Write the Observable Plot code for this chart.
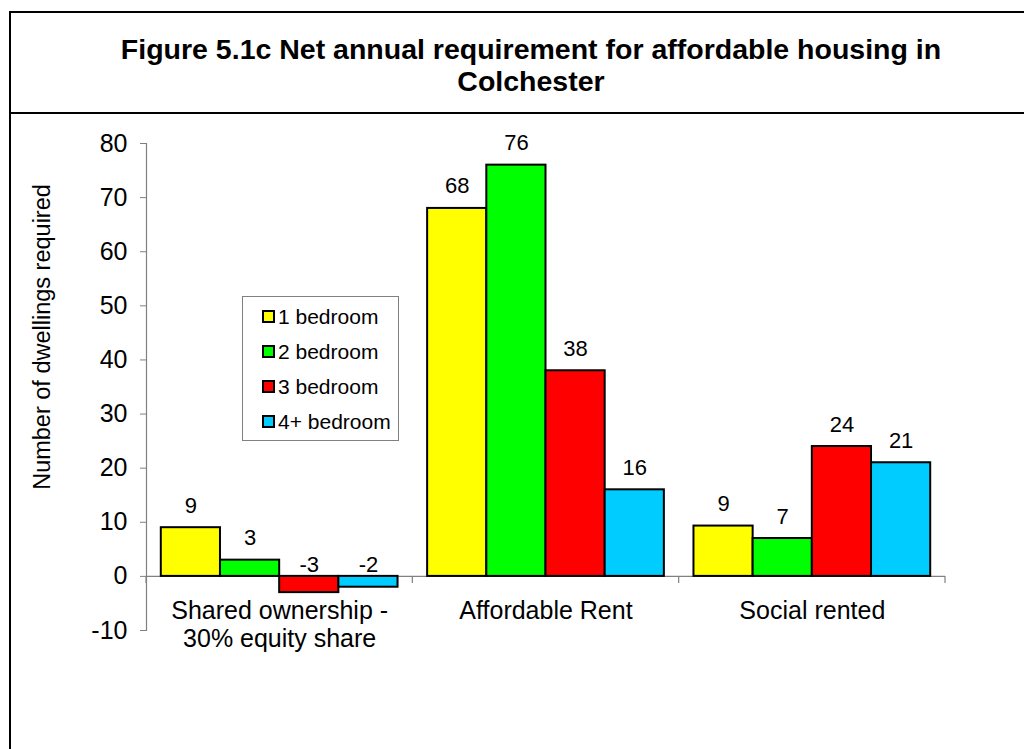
<!DOCTYPE html>
<html><head><meta charset="utf-8">
<script src="https://cdn.jsdelivr.net/npm/d3@7"></script>
<script src="https://cdn.jsdelivr.net/npm/@observablehq/plot@0.6"></script>
<style>
body{margin:0;background:#fff;font-family:"Liberation Sans",Arial,sans-serif;color:#000;}
#wrap{position:relative;width:1024px;height:749px;overflow:hidden;}
#frame{position:absolute;left:9px;top:11px;width:1100px;height:900px;border-left:2px solid #000;border-top:2px solid #000;}
#divider{position:absolute;left:9px;top:112px;width:1100px;height:2px;background:#000;}
#title{position:absolute;left:11px;width:1040px;top:16px;height:99px;display:flex;align-items:center;justify-content:center;text-align:center;font-weight:bold;font-size:28.5px;line-height:1.12;white-space:pre-line;}
#chart{position:absolute;left:0;top:114px;}
#ylabel{position:absolute;left:42px;top:337px;transform:translate(-50%,-50%) rotate(-90deg);white-space:nowrap;font-size:23.5px;}
#legend{position:absolute;left:242px;top:296px;width:157px;height:145px;border:1px solid #808080;box-sizing:border-box;background:#fff;padding-top:2px;}
.item{display:flex;align-items:center;height:35px;padding-left:19px;font-size:21px;}
.sw{width:9px;height:9px;border:2px solid #000;margin-right:3px;}
</style></head>
<body>
<div id="wrap">
  <div id="frame"></div>
  <div id="divider"></div>
  <div id="title"></div>
  <div id="chart"></div>
  <div id="ylabel"></div>
  <div id="legend"></div>
</div>
<script>
const titleText = "Figure 5.1c Net annual requirement for affordable housing in\nColchester";
const yLabel = "Number of dwellings required";
const categories = ["Shared ownership -\n30% equity share", "Affordable Rent", "Social rented"];
const series = ["1 bedroom", "2 bedroom", "3 bedroom", "4+ bedroom"];
const colors = ["#FFFF00", "#00FF00", "#FF0000", "#00CCFF"];
const oneBedroom = [9, 68, 9.3];
const twoBedroom = [3, 76, 7];
const threeBedroom = [-3, 38, 24];
const fourBedroom = [-2, 16, 21];
const yTicks = [-10, 0, 10, 20, 30, 40, 50, 60, 70, 80];

const seriesValues = [oneBedroom, twoBedroom, threeBedroom, fourBedroom];
const rows = [];
categories.forEach((c, i) => series.forEach((s, j) => rows.push({cat: c, series: s, value: seriesValues[j][i]})));
const fmt = v => String(Math.round(v));

document.getElementById("title").textContent = titleText;
document.getElementById("ylabel").textContent = yLabel;
const leg = document.getElementById("legend");
series.forEach((s, i) => {
  const it = document.createElement("div"); it.className = "item";
  const sw = document.createElement("div"); sw.className = "sw"; sw.style.background = colors[i];
  const t = document.createElement("span"); t.textContent = s;
  it.append(sw, t); leg.append(it);
});

const plot = Plot.plot({
  width: 1024,
  height: 635,
  marginTop: 29,
  marginBottom: 119,
  marginLeft: 146,
  marginRight: 79,
  style: {fontFamily: "Liberation Sans, Arial, sans-serif", fontSize: "25px", color: "#000", background: "transparent"},
  fx: {domain: categories, padding: 0, axis: null, round: false},
  x: {domain: series, paddingInner: 0, paddingOuter: 0.25, axis: null, round: false},
  y: {domain: [-10, 80], axis: null},
  color: {domain: series, range: colors},
  marks: [
    Plot.frame({anchor: "left", facetAnchor: "left", stroke: "#808080", strokeWidth: 1.2}),
    Plot.axisY({ticks: yTicks, tickFormat: d => String(d), tickSize: 6, tickPadding: 13, stroke: "#808080", fill: "#000", fontSize: 25, label: null}),
    Plot.ruleY([0], {stroke: "#808080", strokeWidth: 1.2}),
    Plot.barY(rows, {fx: "cat", x: "series", y: "value", fill: "series", stroke: "#000", strokeWidth: 2}),
    Plot.text(rows.filter(d => d.value >= 0), {fx: "cat", x: "series", y: "value", text: d => fmt(d.value), lineAnchor: "bottom", dy: -15, fontSize: 22, fill: "#000"}),
    Plot.text(rows.filter(d => d.value < 0), {fx: "cat", x: "series", y: () => 0, text: d => fmt(d.value), lineAnchor: "bottom", dy: -4, fontSize: 22, fill: "#000"}),
    Plot.text(categories, {fx: d => d, y: () => 0, text: d => d, lineAnchor: "top", dy: 23, fontSize: 25, lineHeight: 1.12, fill: "#000"})
  ]
});
document.getElementById("chart").append(plot);

// category boundary ticks on the zero line, positioned with the plot's own scales
const fxs = plot.scale("fx");
const fxScale = d3.scaleBand(fxs.domain, fxs.range).paddingInner(fxs.paddingInner || 0).paddingOuter(fxs.paddingOuter || 0).align(fxs.align ?? 0.5);
const y0 = plot.scale("y").apply(0);
const bounds = categories.map(c => fxScale(c)).concat([fxScale(categories[categories.length - 1]) + fxScale.bandwidth()]);
d3.select(plot).append("g").attr("aria-label", "x-axis ticks")
  .selectAll("line").data(bounds).join("line")
  .attr("x1", d => d).attr("x2", d => d).attr("y1", y0).attr("y2", y0 + 7)
  .attr("stroke", "#808080").attr("stroke-width", 1.2);
</script>
</body></html>
